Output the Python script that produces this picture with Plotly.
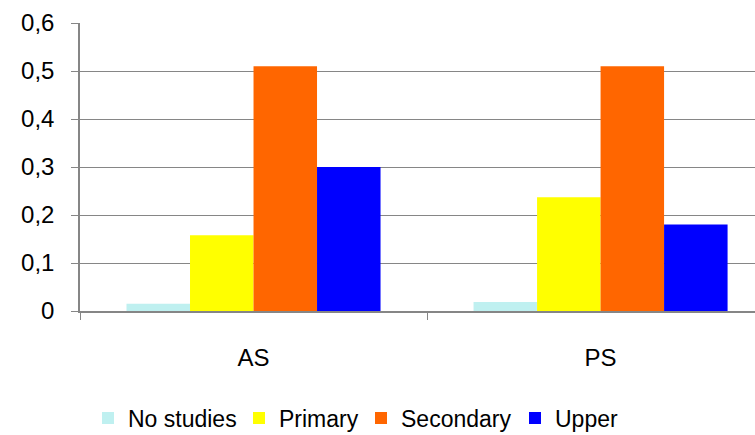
import plotly.graph_objects as go

categories = ["AS", "PS"]
series_names = ["No studies", "Primary", "Secondary", "Upper"]
no_studies = [0.015, 0.019]
primary = [0.158, 0.237]
secondary = [0.51, 0.51]
upper = [0.30, 0.18]
y_ticks = [0, 0.1, 0.2, 0.3, 0.4, 0.5, 0.6]
y_tick_labels = ["0", "0,1", "0,2", "0,3", "0,4", "0,5", "0,6"]

colors = ["#bff0f0", "#ffff00", "#ff6600", "#0000ff"]
values = [no_studies, primary, secondary, upper]
legend_ids = ["legend", "legend2", "legend3", "legend4"]
legend_text_px = [126, 277, 399, 553]

W, H = 755, 435
ML, MR, MT, MB = 80, 0, 23, 124
plot_w = W - ML - MR
plot_h = H - MT - MB

fig = go.Figure()
for name, vals, col, lid in zip(series_names, values, colors, legend_ids):
    fig.add_trace(go.Bar(x=categories, y=vals, name=name, marker_color=col,
                         marker_line_width=0, legend=lid))

font_family = "Liberation Sans, Arial, sans-serif"
legend_layouts = {}
legend_y = -(418 - (MT + plot_h)) / plot_h
for lid, tx in zip(legend_ids, legend_text_px):
    legend_layouts[lid] = dict(orientation="h", x=(tx - 38 - ML) / plot_w, xanchor="left",
                               y=legend_y, yanchor="middle", font=dict(size=23),
                               itemwidth=30, bgcolor="rgba(0,0,0,0)")

fig.update_layout(
    width=W, height=H,
    margin=dict(l=ML, r=MR, t=MT, b=MB, autoexpand=False),
    plot_bgcolor="white", paper_bgcolor="white",
    barmode="group", bargap=0.268, bargroupgap=0,
    font=dict(family=font_family, size=23, color="black"),
    showlegend=True,
    **legend_layouts,
)
fig.update_yaxes(range=[0, 0.6], tickvals=y_ticks, ticktext=y_tick_labels,
                 tickfont=dict(size=24),
                 showgrid=True, gridcolor="#868686", gridwidth=1,
                 showline=True, linecolor="#868686", linewidth=1.5,
                 ticks="outside", ticklen=7, tickcolor="#868686",
                 ticklabelstandoff=12, zeroline=False)
fig.update_xaxes(range=[-0.5, 1.445], showline=True, linecolor="#868686", linewidth=2,
                 tickfont=dict(size=24),
                 ticks="outside", tickson="boundaries", ticklen=7, tickcolor="#868686",
                 ticklabelstandoff=24, showgrid=False)

fig.write_html("out.html", post_script="document.body.style.margin='0px';",
               config={"displayModeBar": False})
